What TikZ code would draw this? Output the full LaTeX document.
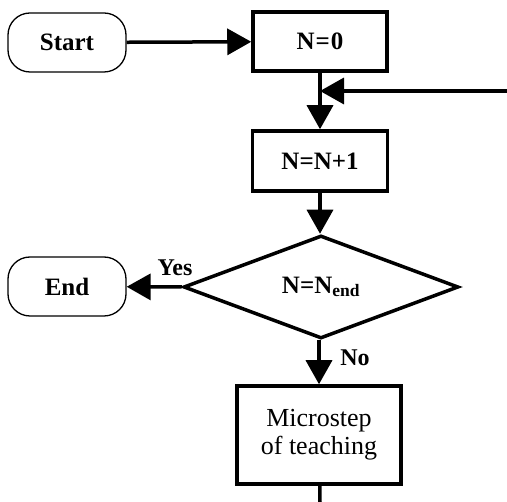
\documentclass[tikz,border=0pt]{standalone}
\usepackage{fontspec}
\setmainfont{Liberation Serif}
\usetikzlibrary{arrows.meta,shapes.geometric}
\begin{document}
\begin{tikzpicture}[x=1pt,y=-1pt,
  every node/.style={font=\fontsize{25}{29}\selectfont\bfseries},
  term/.style={draw,line width=1.3pt,rounded corners=22pt,minimum width=118pt,minimum height=59pt,inner sep=0pt},
  proc/.style={draw,line width=3.5pt,minimum width=134pt,minimum height=59pt,inner sep=0pt},
  dec/.style={draw,diamond,line width=3.5pt,minimum width=275pt,minimum height=103pt,inner sep=0pt},
  arr/.style={line width=3.5pt,-{Triangle[length=24pt,width=26pt]}},
  conn/.style={line width=3.5pt},
  lbl/.style={font=\fontsize{24}{28}\selectfont\bfseries,inner sep=0pt}
]
\useasboundingbox (0,0) rectangle (507,502);
\node[term] (start) at (67,42.5) {Start};
\node[proc] (n0) at (320,41.5) {N\kern1pt=\kern1pt0};
\node[proc,minimum width=135pt,minimum height=60pt] (n1) at (320,161) {N=N+1};
\node[dec] (dec) at (321,287) {N=N\textsubscript{end}};
\node[term] (end) at (67,286.5) {End};
\node[proc,minimum width=164pt,minimum height=98pt,align=center,font=\fontsize{26}{28}\selectfont] (micro) at (319,435) {Microstep\\of teaching};
\coordinate (loopin) at (507,91);
\coordinate (join) at (320,91);
\coordinate (bottom) at (320,502);
\draw[arr] (start) -- (n0);
\draw[conn] (n0) -- (join);
\draw[arr] (join) -- (n1);
\draw[arr] (loopin) -- (join);
\draw[arr] (n1) -- (n1.south |- dec.north);
\draw[arr] (dec.west) -- (end);
\draw[arr] (micro.north |- dec.south) -- (micro);
\draw[conn] (micro) -- (bottom);
\node[lbl] (yes) at (175,268) {Yes};
\node[lbl] (no) at (355,358) {No};
\end{tikzpicture}
\end{document}
